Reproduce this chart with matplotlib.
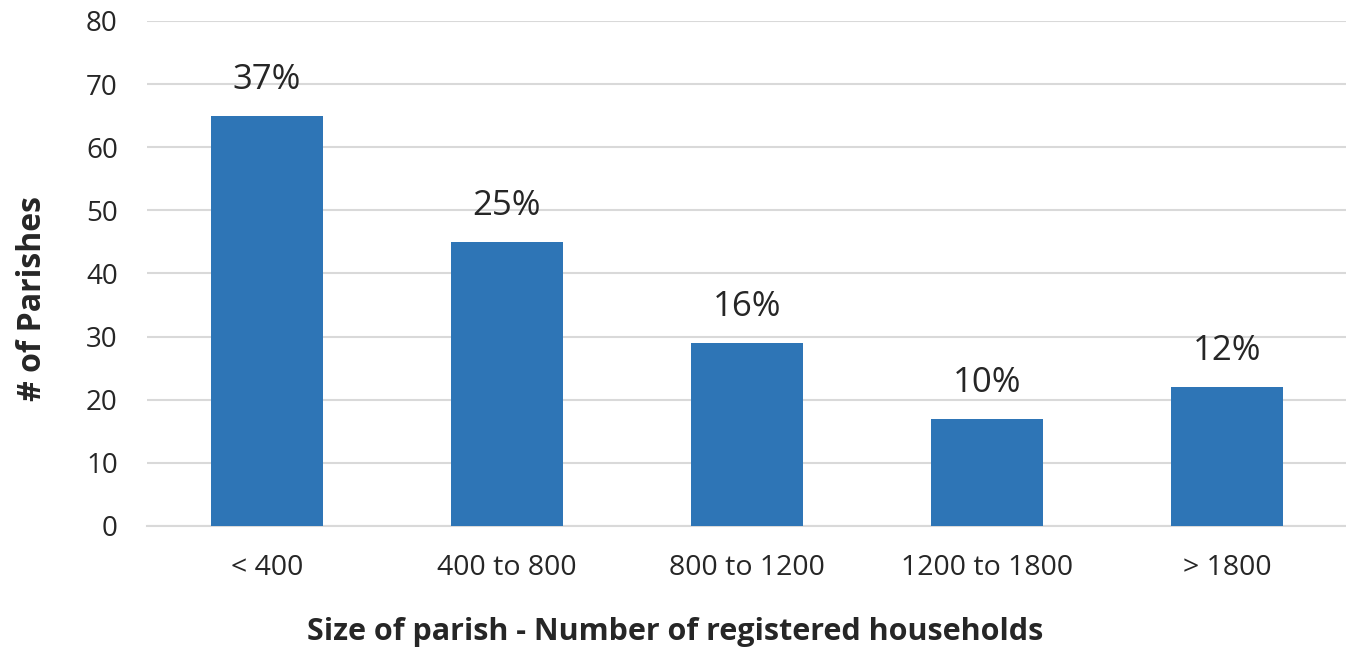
import matplotlib
matplotlib.use("Agg")
import matplotlib.pyplot as plt

categories = ['< 400', '400 to 800', '800 to 1200', '1200 to 1800', '> 1800']
parishes = [65, 45, 29, 17, 22]
pct_labels = ['37%', '25%', '16%', '10%', '12%']

plt.rcParams['font.family'] = ['Open Sans', 'DejaVu Sans']

fig = plt.figure(figsize=(13.46, 6.48), dpi=100)
ax = fig.add_axes([0.1092, 0.1883, 0.8915, 0.7793])

x = range(len(categories))
bars = ax.bar(x, parishes, width=0.47, color='#2E75B6', zorder=3)

for b, lab in zip(bars, pct_labels):
    ax.text(b.get_x() + b.get_width() / 2, b.get_height() + 3.0, lab,
            ha='center', va='bottom', fontsize=25, color='#262626')

ax.set_xlim(-0.5, 4.5)
ax.set_ylim(0, 80)
ax.set_yticks(range(0, 81, 10))
ax.set_xticks(list(x))
ax.set_xticklabels(categories, fontsize=20.5, color='#262626')
ax.tick_params(axis='y', labelsize=20, colors='#262626', length=0, pad=21)
ax.tick_params(axis='x', length=0, pad=20)
ax.grid(axis='y', color='#D9D9D9', linewidth=1.5, zorder=0)
for s in ['top', 'right', 'left']:
    ax.spines[s].set_visible(False)
ax.spines['bottom'].set_color('#D9D9D9')
ax.spines['bottom'].set_linewidth(1.5)

ax.set_ylabel('# of Parishes', fontsize=23, fontweight='bold', color='#262626')
ax.yaxis.set_label_coords(-0.0950, 0.45)
ax.yaxis.label.set_va('center')
ax.set_xlabel('Size of parish - Number of registered households', fontsize=22,
              fontweight='bold', color='#262626')
ax.xaxis.set_label_coords(0.44, -0.21)
ax.xaxis.label.set_va('center')

fig.savefig('out.png', dpi=100)
